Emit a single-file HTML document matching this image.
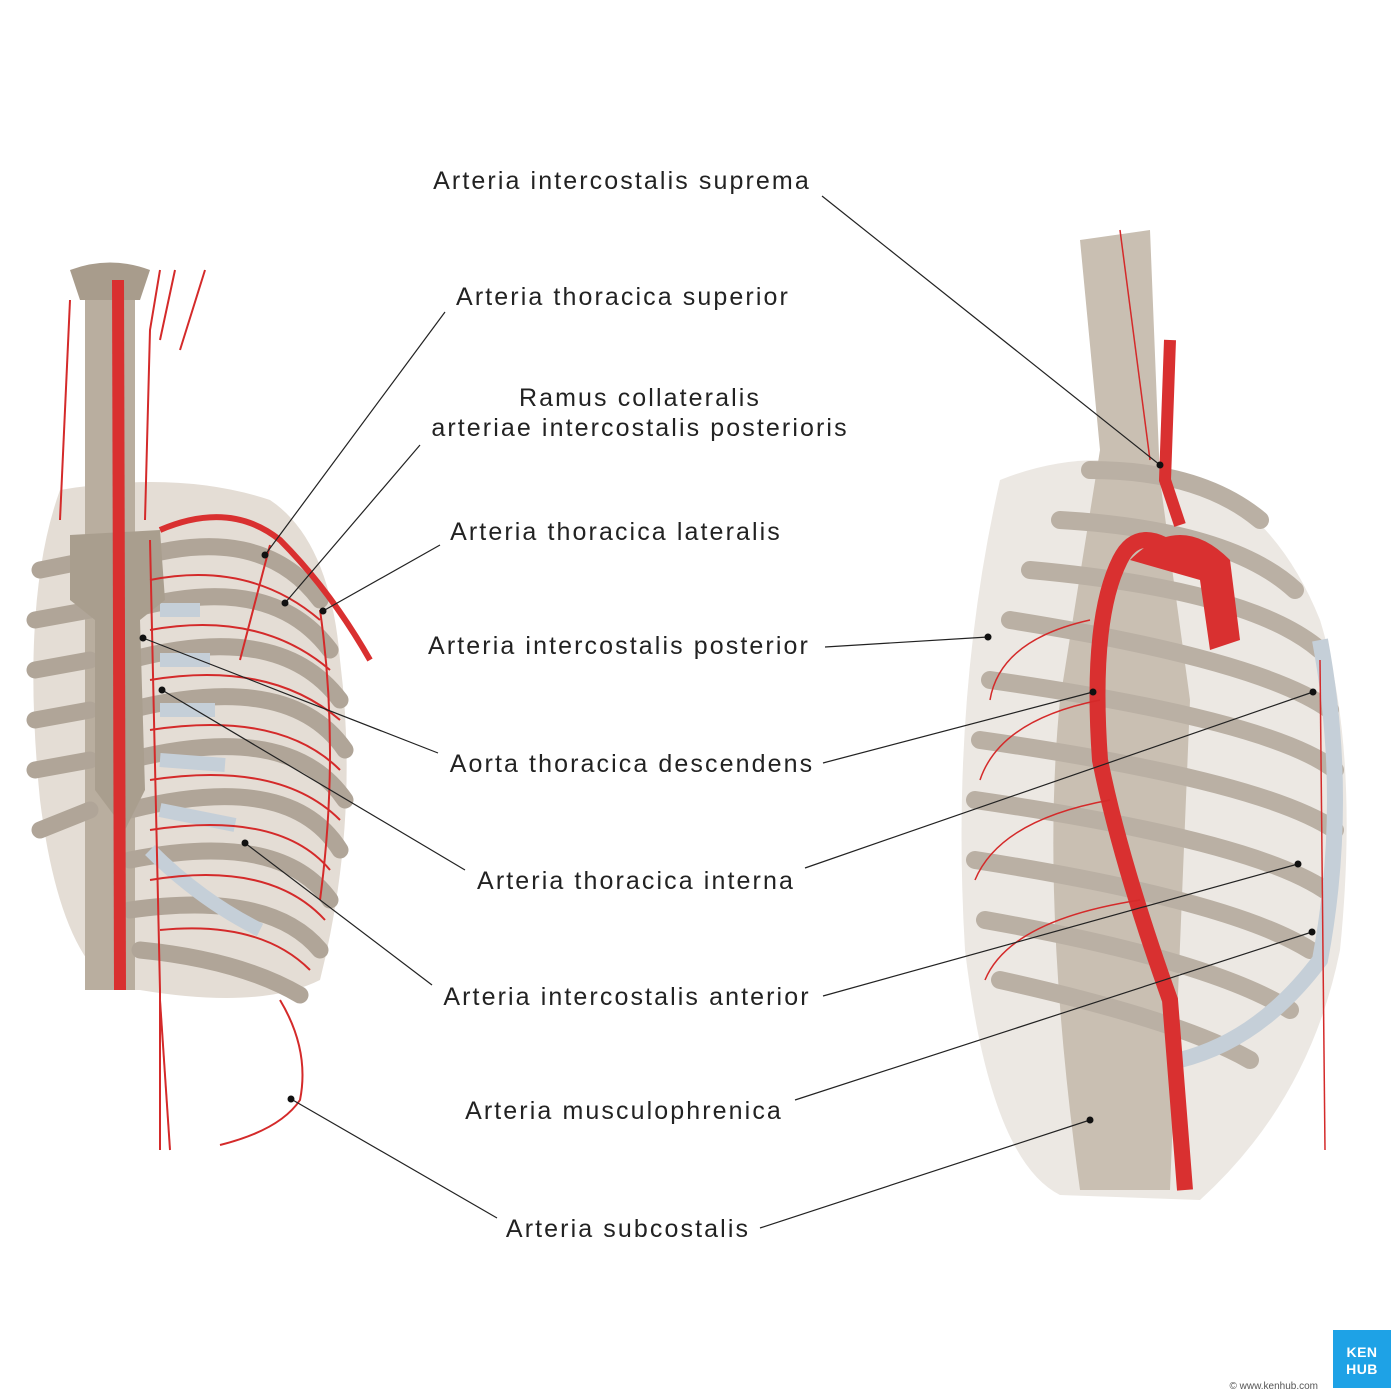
<!DOCTYPE html>
<html><head><meta charset="utf-8"><style>
html,body{margin:0;padding:0;background:#fff}
svg{display:block}
text{font-family:"Liberation Sans",sans-serif;font-size:25px;fill:#222;letter-spacing:2.1px}
</style></head><body>
<svg width="1400" height="1400" viewBox="0 0 1400 1400" xmlns="http://www.w3.org/2000/svg">
<rect width="1400" height="1400" fill="#fff"/>
<!-- LEFT FIGURE -->
<g>
 <path d="M60,490 Q20,600 40,800 Q60,960 120,990 L140,990 Q260,1010 320,980 Q360,820 340,660 Q330,540 270,500 Q180,470 60,490Z" fill="#e4ddd5"/>
 <rect x="85" y="270" width="50" height="720" fill="#b9ae9f"/>
 <path d="M70,270 Q110,255 150,270 L140,300 L80,300Z" fill="#a89c8c"/>
 <g stroke="#b0a598" stroke-width="17" fill="none" stroke-linecap="round">
  <path d="M130,560 Q260,520 320,600"/><path d="M130,610 Q270,570 330,650"/><path d="M130,660 Q280,620 340,700"/>
  <path d="M130,710 Q290,670 345,750"/><path d="M130,760 Q290,720 345,800"/><path d="M130,810 Q290,770 340,850"/>
  <path d="M130,860 Q280,830 330,900"/><path d="M130,910 Q270,890 320,950"/><path d="M140,950 Q240,960 300,995"/>
  <path d="M90,560 L40,570"/><path d="M90,610 L35,620"/><path d="M90,660 L35,670"/><path d="M90,710 L35,720"/><path d="M90,760 L35,770"/><path d="M90,810 L40,830"/>
 </g>
 <g stroke="#c5cfd8" stroke-width="14" fill="none"><path d="M160,610 L200,610"/><path d="M160,660 L210,660"/><path d="M160,710 L215,710"/><path d="M160,760 L225,765"/><path d="M160,810 L235,825"/><path d="M150,850 Q200,900 260,930"/></g>
 <path d="M70,535 L160,530 L165,600 L140,620 L145,790 L125,830 L95,790 L95,620 L70,600Z" fill="#a99e8e"/>
 <g stroke="#d42a2a" fill="none" stroke-width="2">
  <path d="M118,280 L120,990" stroke-width="12" stroke="#d93030"/>
  <path d="M160,530 Q230,500 280,540 Q330,590 370,660" stroke-width="6" stroke="#d93030"/>
  <path d="M160,270 L150,330 L145,520"/><path d="M175,270 L160,340"/><path d="M205,270 L180,350"/>
  <path d="M70,300 L60,520"/>
  <path d="M150,540 L160,990 L160,1150"/><path d="M160,1000 L170,1150"/>
  <path d="M150,580 Q250,560 320,620"/><path d="M150,630 Q260,610 330,670"/><path d="M150,680 Q270,660 340,720"/>
  <path d="M150,730 Q280,710 340,770"/><path d="M150,780 Q280,760 340,820"/><path d="M150,830 Q280,810 330,870"/>
  <path d="M150,880 Q270,860 325,920"/><path d="M160,930 Q260,920 310,970"/>
  <path d="M270,545 L240,660"/><path d="M320,610 Q340,750 320,900"/>
  <path d="M280,1000 Q310,1050 300,1100 Q280,1130 220,1145"/>
 </g>
</g>
<!-- RIGHT FIGURE -->
<g>
 <path d="M1000,480 Q950,700 965,950 Q990,1160 1060,1195 L1200,1200 Q1310,1100 1340,950 Q1360,750 1320,620 Q1280,520 1200,480 Q1100,440 1000,480Z" fill="#ece8e3"/>
 <path d="M1080,240 L1150,230 L1160,480 L1190,700 L1170,1190 L1080,1190 Q1040,900 1060,700 L1100,450Z" fill="#c9bfb2"/>
 <g stroke="#bab0a4" stroke-width="18" fill="none" stroke-linecap="round">
  <path d="M1090,470 Q1200,470 1260,520"/><path d="M1060,520 Q1230,530 1295,590"/><path d="M1030,570 Q1250,590 1320,650"/>
  <path d="M1010,620 Q1260,660 1330,710"/><path d="M990,680 Q1270,720 1335,770"/><path d="M980,740 Q1260,780 1335,830"/>
  <path d="M975,800 Q1250,840 1325,890"/><path d="M975,860 Q1230,900 1310,950"/><path d="M985,920 Q1210,960 1290,1010"/>
  <path d="M1000,980 Q1180,1020 1250,1060"/>
 </g>
 <path d="M1320,640 Q1350,800 1320,960 Q1260,1040 1180,1060" stroke="#c5cfd8" stroke-width="16" fill="none"/>
 <path d="M1185,560 Q1140,520 1120,560 Q1090,620 1100,760 Q1120,860 1170,1000 L1185,1190" stroke="#d93030" stroke-width="16" fill="none"/>
 <path d="M1130,560 Q1180,510 1230,560 L1240,640 L1210,650 L1200,580" fill="#d93030"/>
 <path d="M1170,340 L1165,480 L1180,525" stroke="#d93030" stroke-width="12" fill="none"/>
 <g stroke="#d42a2a" stroke-width="1.5" fill="none">
  <path d="M1120,230 L1150,460"/><path d="M1090,620 Q1000,640 990,700"/><path d="M1100,700 Q1000,720 980,780"/>
  <path d="M1110,800 Q1000,820 975,880"/><path d="M1140,900 Q1010,920 985,980"/><path d="M1320,660 L1325,1150"/>
 </g>
</g>
<!-- leader lines -->
<g stroke="#222" stroke-width="1.2">
 <line x1="822" y1="196" x2="1160" y2="465"/>
 <line x1="445" y1="312" x2="265" y2="555"/>
 <line x1="420" y1="445" x2="285" y2="603"/>
 <line x1="440" y1="545" x2="323" y2="611"/>
 <line x1="825" y1="647" x2="988" y2="637"/>
 <line x1="438" y1="753" x2="143" y2="638"/>
 <line x1="823" y1="763" x2="1093" y2="692"/>
 <line x1="465" y1="870" x2="162" y2="690"/>
 <line x1="805" y1="868" x2="1313" y2="692"/>
 <line x1="432" y1="985" x2="245" y2="843"/>
 <line x1="823" y1="996" x2="1298" y2="864"/>
 <line x1="795" y1="1100" x2="1312" y2="932"/>
 <line x1="497" y1="1218" x2="291" y2="1099"/>
 <line x1="760" y1="1228" x2="1090" y2="1120"/>
</g>
<g fill="#111">
 <circle cx="1160" cy="465" r="3.5"/><circle cx="265" cy="555" r="3.5"/><circle cx="285" cy="603" r="3.5"/><circle cx="323" cy="611" r="3.5"/>
 <circle cx="988" cy="637" r="3.5"/><circle cx="143" cy="638" r="3.5"/><circle cx="1093" cy="692" r="3.5"/><circle cx="162" cy="690" r="3.5"/>
 <circle cx="1313" cy="692" r="3.5"/><circle cx="245" cy="843" r="3.5"/><circle cx="1298" cy="864" r="3.5"/><circle cx="1312" cy="932" r="3.5"/>
 <circle cx="291" cy="1099" r="3.5"/><circle cx="1090" cy="1120" r="3.5"/>
</g>
<g text-anchor="middle">
 <text x="622" y="189">Arteria intercostalis suprema</text>
 <text x="623" y="305">Arteria thoracica superior</text>
 <text x="640" y="406">Ramus collateralis</text>
 <text x="640" y="436">arteriae intercostalis posterioris</text>
 <text x="616" y="540">Arteria thoracica lateralis</text>
 <text x="619" y="654">Arteria intercostalis posterior</text>
 <text x="632" y="772">Aorta thoracica descendens</text>
 <text x="636" y="889">Arteria thoracica interna</text>
 <text x="627" y="1005">Arteria intercostalis anterior</text>
 <text x="624" y="1119">Arteria musculophrenica</text>
 <text x="628" y="1237">Arteria subcostalis</text>
</g>
<rect x="1333" y="1330" width="58" height="58" fill="#1ea2e6"/>
<text x="1362" y="1357" text-anchor="middle" style="fill:#fff;font-size:14px;font-weight:bold;letter-spacing:0.5px">KEN</text>
<text x="1362" y="1374" text-anchor="middle" style="fill:#fff;font-size:14px;font-weight:bold;letter-spacing:0.5px">HUB</text>
<text x="1318" y="1389" text-anchor="end" style="font-size:10px;fill:#555;letter-spacing:0">© www.kenhub.com</text>
</svg>
</body></html>
